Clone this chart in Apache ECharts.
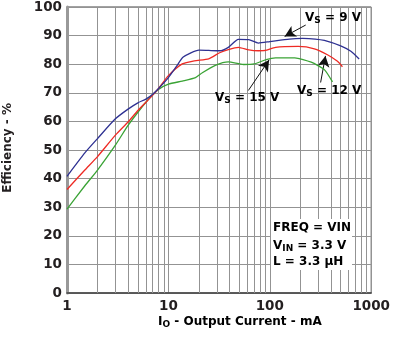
<!DOCTYPE html>
<html>
<head>
<meta charset="utf-8">
<script src="https://cdn.jsdelivr.net/npm/echarts@6/dist/echarts.min.js"></script>
<style>
  html, body { margin: 0; padding: 0; background: #fff; }
  #chart { width: 393px; height: 338px; }
</style>
</head>
<body>
<div id="chart"></div>
<script>
// Efficiency vs output current, three supply voltages
const vs9 = [
  [1, 40.8], [1.5, 49], [2, 54], [3, 60.9], [4, 64.3], [5, 66.5], [6, 67.8], [7, 69.5],
  [8, 71.5], [10, 75.3], [12, 79.2], [14, 82.5], [20, 84.9], [25, 84.8], [32, 84.7],
  [39, 85.9], [49, 88.7], [62, 88.6], [77, 87.4], [100, 87.9], [156, 88.8], [211, 89],
  [280, 88.8], [345, 88.3], [500, 86.4], [630, 84.5], [760, 81.8]
];
const vs12 = [
  [1, 36.2], [1.5, 43], [2, 47.7], [3, 55.2], [4, 59.8], [5, 63.8], [6, 66.7], [7, 69.2],
  [8, 71.5], [10, 76], [13.7, 80.1], [18, 81.2], [25, 81.9], [32, 84], [39, 85.1],
  [49, 85.9], [62, 85], [77, 84.7], [90, 84.8], [114, 85.9], [190, 86.2], [275, 85.4],
  [370, 83.3], [465, 81], [520, 79.1]
];
const vs15 = [
  [1, 29.3], [1.5, 37.5], [2, 43], [3, 51.7], [4, 58.6], [5, 63.2], [6, 66.7], [7, 69.3],
  [8, 71.2], [10, 73], [13.7, 74.1], [18.5, 75.3], [21.6, 77], [29, 79.6], [39, 80.8],
  [55, 79.9], [70, 80.1], [92, 81.6], [114, 82.2], [176, 82.2], [256, 80.7], [345, 78.1],
  [415, 73.8]
];
const xTicks = [1, 10, 100, 1000];
const minorGrid = [2, 3, 4, 5, 6, 7, 8, 9, 20, 30, 40, 50, 60, 70, 80, 90, 200, 300, 400, 500, 600, 700, 800, 900];
// arrow start / end points for the curve callouts, in data units
const arrow9 = [[226, 93.7], [140, 89.7]];
const arrow12 = [[317, 73.6], [354, 82.9]];
const arrow15 = [[61.4, 70.8], [98.4, 81.5]];

const FONT = '"DejaVu Sans", sans-serif';
const INK = '#231f20';
const GRIDC = '#939393';

const chart = echarts.init(document.getElementById('chart'), null, { renderer: 'canvas' });

function arrowLine(pts) {
  return [{ coord: pts[0] }, { coord: pts[1] }];
}

const richBase = {
  b: { fontFamily: FONT, fontWeight: 'bold', fontSize: 12, color: INK, lineHeight: 14 },
  s: { fontFamily: FONT, fontWeight: 'bold', fontSize: 9, color: INK, lineHeight: 14, padding: [6, 0, 0, 0] }
};

function label(x, y, txt) {
  return { type: 'text', left: x, top: y, z: 20, style: { text: txt, rich: richBase } };
}

const option = {
  animation: false,
  backgroundColor: '#fff',
  grid: { left: 67, right: 19, top: 3, bottom: 45, show: true, borderColor: '#444', borderWidth: 1, backgroundColor: '#fff' },
  xAxis: {
    type: 'log', logBase: 10, min: 1, max: 1000,
    axisLine: { show: true, onZero: false, lineStyle: { color: '#444', width: 1.5 } },
    axisTick: { show: false },
    axisLabel: { margin: 6, fontFamily: FONT, fontWeight: 'bold', fontSize: 13.5, color: INK,
      formatter: v => (xTicks.indexOf(Math.round(v)) >= 0 ? String(Math.round(v)) : '') },
    splitLine: { show: true, lineStyle: { color: GRIDC, width: 1 } }
  },
  yAxis: {
    type: 'value', min: 0, max: 100, interval: 10,
    axisLine: { show: true, lineStyle: { color: '#999', width: 3 } },
    axisTick: { show: false },
    axisLabel: { margin: 5, padding: [4, 0, 0, 0], fontFamily: FONT, fontWeight: 'bold', fontSize: 13.5, color: INK },
    splitLine: { show: true, lineStyle: { color: GRIDC, width: 1 } }
  },
  series: [
    {
      name: 'VS = 15 V', type: 'line', data: vs15, showSymbol: false, smooth: 0.2,
      lineStyle: { color: '#3aa335', width: 1.3 }, z: 5,
      markLine: {
        silent: true, symbol: 'none', label: { show: false }, z: 1,
        lineStyle: { color: GRIDC, width: 1, type: 'solid' },
        data: minorGrid.map(v => ({ xAxis: v }))
      }
    },
    {
      name: 'VS = 12 V', type: 'line', data: vs12, showSymbol: false, smooth: 0.2,
      lineStyle: { color: '#ee2a24', width: 1.3 }, z: 6
    },
    {
      name: 'VS = 9 V', type: 'line', data: vs9, showSymbol: false, smooth: 0.2,
      lineStyle: { color: '#2e3192', width: 1.3 }, z: 7,
      markLine: {
        silent: true, symbol: ['none', 'arrow'], symbolSize: [9, 11], label: { show: false },
        lineStyle: { color: '#111', width: 1, type: 'solid' },
        data: [arrowLine(arrow9), arrowLine(arrow12), arrowLine(arrow15)]
      }
    }
  ],
  graphic: [
    // axis titles
    {
      type: 'text', left: 2, top: 103, z: 20, rotation: Math.PI / 2,
      style: { text: 'Efficiency - %', fontFamily: FONT, fontWeight: 'bold', fontSize: 12, fill: INK }
    },
    label(158, 314, '{b|I}{s|O}{b| - Output Current - mA}'),
    // curve callouts
    label(305, 10, '{b|V}{s|S}{b| = 9 V}'),
    label(215, 90, '{b|V}{s|S}{b| = 15 V}'),
    label(297, 83, '{b|V}{s|S}{b| = 12 V}'),
    // test-condition box
    { type: 'rect', shape: { x: 271, y: 219, width: 81, height: 51 }, style: { fill: '#fff' }, z: 15 },
    label(273, 222, '{b|FREQ = VIN}'),
    label(273, 238, '{b|V}{s|IN}{b| = 3.3 V}'),
    label(273, 256, '{b|L = 3.3 µH}')
  ]
};

chart.setOption(option);
</script>
</body>
</html>
